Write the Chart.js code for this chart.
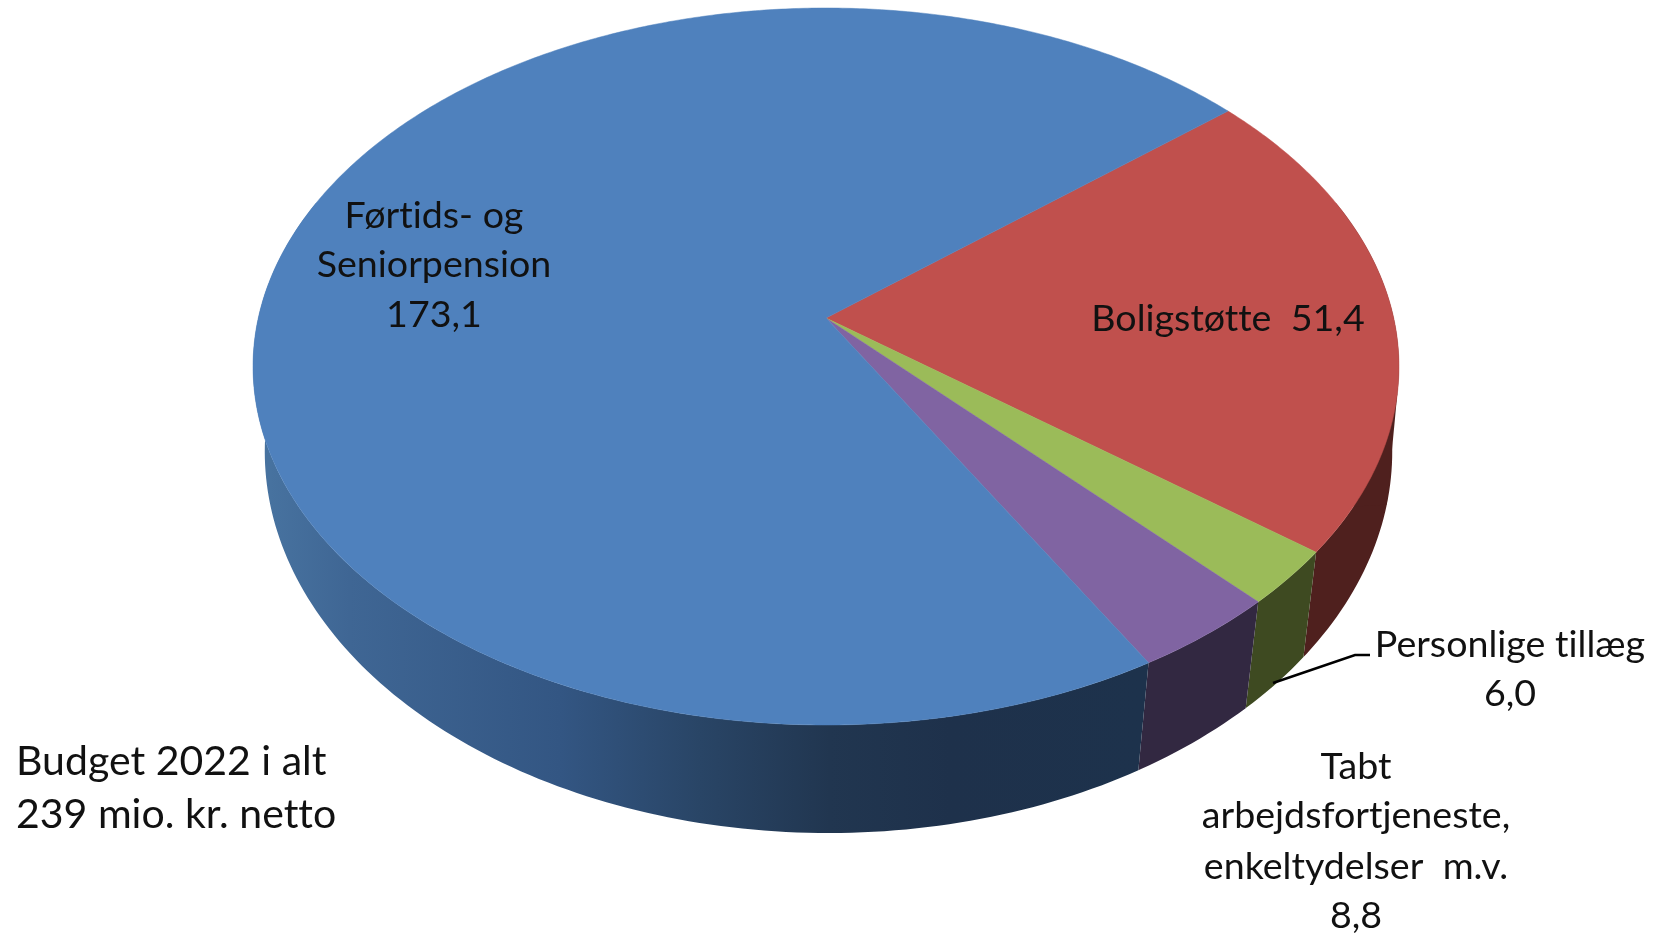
<!DOCTYPE html>
<html lang="da">
<head>
<meta charset="utf-8">
<title>Budget 2022</title>
<script src="https://cdn.jsdelivr.net/npm/chart.js@4"></script>
<style>
  html, body { margin: 0; background: #fff; }
  canvas { display: block; filter: blur(0.5px); }
</style>
</head>
<body>
<canvas id="pieCanvas" width="1656" height="935"></canvas>
<script>
const categories = ['Boligstøtte', 'Personlige tillæg', 'Tabt arbejdsfortjeneste, enkeltydelser m.v.', 'Førtids- og Seniorpension'];
const values = [51.4, 6.0, 8.8, 173.1];
const topColors = ['#C0504D', '#9BBB59', '#8064A2', '#4F81BD'];
const wallColors = ['#4F201E', '#3E4A21', '#322841', null];
const blueWallStops = [[270, '#47729F'], [350, '#3F6694'], [560, '#335683'], [700, '#294566'], [830, '#213650'], [950, '#1E314B'], [1140, '#1D324C']];
const totalLines = ['Budget 2022 i alt', '239 mio. kr. netto'];

// flat circle -> tilted disc, top face and bottom face have their own perspective
const topFace = { cx: 826, k: 567.7, a: 308.9, b: 318, c: -0.1353 };
const bottomFace = { cx: 828.5, k: 560.5, a: 333, b: 410.9, c: -0.107 };

function project(face, angle) {
  const u = Math.cos(angle), v = Math.sin(angle);
  const w = 1 + face.c * v;
  return { x: face.cx + face.k * u / w, y: (face.a * v + face.b) / w };
}

function fmt(v) {
  return v.toFixed(1).replace('.', ',');
}

const labels = [
  { lines: ['Boligstøtte  ' + fmt(values[0])], x: 1228, y: [319] },
  { lines: ['Personlige tillæg', fmt(values[1])], x: 1510, y: [645, 694] },
  { lines: ['Tabt', 'arbejdsfortjeneste,', 'enkeltydelser  m.v.', fmt(values[2])], x: 1356, y: [767, 816, 867, 916] },
  { lines: ['Førtids- og', 'Seniorpension', fmt(values[3])], x: 434, y: [216, 265, 315] }
];

const pie3d = {
  id: 'pie3d',
  beforeDatasetDraw(chart, args) {
    const ctx = chart.ctx;
    const arcs = args.meta.data;
    const step = Math.PI / 180;

    // side wall first, the top face covers whatever is behind it
    arcs.forEach((arc, i) => {
      const from = Math.max(arc.startAngle, -20 * step);
      const to = Math.min(arc.endAngle, 200 * step);
      if (to <= from) return;
      let fill = wallColors[i];
      if (!fill) {
        fill = ctx.createLinearGradient(270, 0, 1140, 0);
        blueWallStops.forEach(s => fill.addColorStop((s[0] - 270) / 870, s[1]));
      }
      ctx.beginPath();
      for (let t = from; t < to; t += step) {
        const t2 = Math.min(t + step, to);
        const p1 = project(topFace, t), p2 = project(topFace, t2);
        const p3 = project(bottomFace, t2), p4 = project(bottomFace, t);
        ctx.moveTo(p1.x, p1.y);
        ctx.lineTo(p2.x, p2.y);
        ctx.lineTo(p3.x, p3.y);
        ctx.lineTo(p4.x, p4.y);
        ctx.closePath();
      }
      ctx.fillStyle = fill;
      ctx.fill();

      // straight outer edge on the right, where the wall comes out behind the top
      if (from <= 12 * step && to >= 30 * step) {
        const e1 = project(topFace, 12 * step), e2 = project(bottomFace, 14 * step), e3 = project(topFace, 30 * step);
        ctx.beginPath();
        ctx.moveTo(e1.x, e1.y);
        ctx.lineTo(e2.x, e2.y);
        ctx.lineTo(e3.x, e3.y);
        ctx.closePath();
        ctx.fill();
      }
    });

    arcs.forEach((arc, i) => {
      ctx.beginPath();
      ctx.moveTo(topFace.cx, topFace.b);
      for (let t = arc.startAngle; t < arc.endAngle; t += step / 2) {
        const p = project(topFace, t);
        ctx.lineTo(p.x, p.y);
      }
      const last = project(topFace, arc.endAngle);
      ctx.lineTo(last.x, last.y);
      ctx.closePath();
      ctx.fillStyle = topColors[i];
      ctx.fill();
      ctx.strokeStyle = topColors[i];
      ctx.lineWidth = 0.5;
      ctx.stroke();
    });
    return false;
  },
  afterDatasetsDraw(chart) {
    const ctx = chart.ctx;
    ctx.save();
    ctx.strokeStyle = '#000';
    ctx.lineWidth = 2.5;
    ctx.beginPath();
    ctx.moveTo(1273, 683);
    ctx.lineTo(1355, 655);
    ctx.lineTo(1370, 655);
    ctx.stroke();

    ctx.fillStyle = '#111';
    ctx.letterSpacing = '0.01px'; // keeps Lato from joining "ti" and "tt"
    ctx.font = '37.6px Lato';
    ctx.textBaseline = 'middle';
    ctx.textAlign = 'center';
    labels.forEach(l => l.lines.forEach((line, i) => ctx.fillText(line, l.x, l.y[i])));
    ctx.font = '41px Lato';
    ctx.textAlign = 'left';
    totalLines.forEach((line, i) => ctx.fillText(line, 16, 762 + i * 53));
    ctx.restore();
  }
};

new Chart(document.getElementById('pieCanvas'), {
  type: 'pie',
  data: {
    labels: categories,
    datasets: [{ data: values, backgroundColor: topColors, borderWidth: 0 }]
  },
  options: {
    responsive: false,
    animation: false,
    rotation: 50.3,
    plugins: { legend: { display: false }, tooltip: { enabled: false } }
  },
  plugins: [pie3d]
});
</script>
</body>
</html>
